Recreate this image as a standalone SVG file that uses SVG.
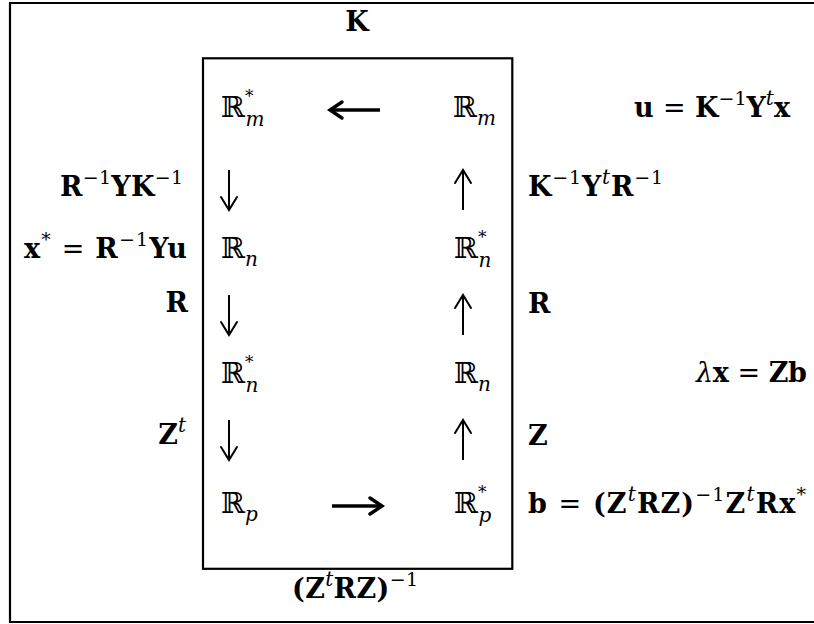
<svg xmlns="http://www.w3.org/2000/svg" width="814" height="624" viewBox="0 0 814 624">
<defs>
<style>
.b{font-family:"DejaVu Serif",serif;font-weight:bold;font-size:27px;fill:#000}
.r{font-weight:normal}
.sup{font-weight:normal;font-size:19px}
.supi{font-weight:normal;font-style:italic;font-size:20px}
.bb{font-family:"DejaVu Serif","DejaVu Sans",serif;font-size:29px;fill:#000}
.st{font-size:17px}
.sub{font-style:italic;font-size:20px}
.frame{fill:none;stroke:#000;stroke-width:2.2}
.arr{fill:none;stroke:#000;stroke-width:2;stroke-linecap:butt}
.harr{fill:none;stroke:#000;stroke-width:3.4;stroke-linecap:butt}
</style>
<marker id="head" markerUnits="userSpaceOnUse" markerWidth="24" markerHeight="24" refX="13" refY="12" orient="auto" overflow="visible">
<path d="M0 4 L13 12 L0 20" fill="none" stroke="#000" stroke-width="2" stroke-linecap="round" stroke-linejoin="miter"/>
</marker>
<marker id="headb" markerUnits="userSpaceOnUse" markerWidth="24" markerHeight="24" refX="13" refY="12" orient="auto" overflow="visible">
<path d="M1 4 L13 12 L1 20" fill="none" stroke="#000" stroke-width="3.4" stroke-linecap="round" stroke-linejoin="miter"/>
</marker>
</defs>
<rect width="814" height="624" fill="#fff"/>
<path class="frame" d="M820 3 H10 V622 H820"/>
<rect id="box" class="frame" x="203" y="58.3" width="309.3" height="510.5" stroke-width="2"/>

<g id="connectors">
<line class="harr" x1="380" y1="110" x2="330" y2="110" marker-end="url(#headb)"/>
<line class="harr" x1="332" y1="506" x2="382" y2="506" marker-end="url(#headb)"/>
<line class="arr" x1="229" y1="170" x2="229" y2="210" marker-end="url(#head)"/>
<line class="arr" x1="229" y1="295" x2="229" y2="335" marker-end="url(#head)"/>
<line class="arr" x1="229" y1="420" x2="229" y2="460" marker-end="url(#head)"/>
<line class="arr" x1="463" y1="210" x2="463" y2="170" marker-end="url(#head)"/>
<line class="arr" x1="463" y1="335" x2="463" y2="295" marker-end="url(#head)"/>
<line class="arr" x1="463" y1="460" x2="463" y2="420" marker-end="url(#head)"/>
</g>

<g id="n-Rm-star"><text class="bb" x="221" y="117">ℝ<tspan class="st" dy="-15">*</tspan><tspan class="sub" dx="-8" dy="24">m</tspan></text></g>
<g id="n-Rm"><text class="bb" x="453" y="117">ℝ<tspan class="sub" dy="8">m</tspan></text></g>
<g id="n-Rn-left"><text class="bb" x="221" y="258">ℝ<tspan class="sub" dy="8">n</tspan></text></g>
<g id="n-Rn-star-right"><text class="bb" x="454" y="258">ℝ<tspan class="st" dy="-15">*</tspan><tspan class="sub" dx="-8" dy="24">n</tspan></text></g>
<g id="n-Rn-star-left"><text class="bb" x="221" y="383">ℝ<tspan class="st" dy="-15">*</tspan><tspan class="sub" dx="-8" dy="24">n</tspan></text></g>
<g id="n-Rn-right"><text class="bb" x="454" y="383">ℝ<tspan class="sub" dy="8">n</tspan></text></g>
<g id="n-Rp"><text class="bb" x="221" y="513">ℝ<tspan class="sub" dy="8">p</tspan></text></g>
<g id="n-Rp-star"><text class="bb" x="454" y="513">ℝ<tspan class="st" dy="-15">*</tspan><tspan class="sub" dx="-8" dy="24">p</tspan></text></g>

<g id="labels">
<text class="b" x="357" y="31" text-anchor="middle" font-size="28">K</text>
<text class="b" x="634" y="117" textLength="156" lengthAdjust="spacing">u <tspan class="r">=</tspan> K<tspan class="sup" dy="-12">−1</tspan><tspan dy="12">Y</tspan><tspan class="supi" dy="-12">t</tspan><tspan dy="12">x</tspan></text>
<text class="b" x="60" y="196" textLength="123" lengthAdjust="spacing">R<tspan class="sup" dy="-12">−1</tspan><tspan dy="12">YK</tspan><tspan class="sup" dy="-12">−1</tspan></text>
<text class="b" x="528" y="196" textLength="135" lengthAdjust="spacing">K<tspan class="sup" dy="-12">−1</tspan><tspan dy="12">Y</tspan><tspan class="supi" dy="-12">t</tspan><tspan dy="12">R</tspan><tspan class="sup" dy="-12">−1</tspan></text>
<text class="b" x="24" y="258" textLength="163" lengthAdjust="spacing">x<tspan class="sup" dy="-12">*</tspan><tspan class="r" dy="12"> = </tspan>R<tspan class="sup" dy="-12">−1</tspan><tspan dy="12">Yu</tspan></text>
<text class="b" x="188" y="312" text-anchor="end">R</text>
<text class="b" x="528" y="313">R</text>
<text class="b" x="696" y="382" textLength="111" lengthAdjust="spacing"><tspan class="r" font-style="italic">λ</tspan>x <tspan class="r">=</tspan> Zb</text>
<text class="b" x="186" y="444" text-anchor="end">Z<tspan class="supi" dy="-12">t</tspan></text>
<text class="b" x="528" y="445">Z</text>
<text class="b" x="528" y="513" textLength="278" lengthAdjust="spacing">b <tspan class="r">=</tspan> (Z<tspan class="supi" dy="-12">t</tspan><tspan dy="12">RZ)</tspan><tspan class="sup" dy="-12">−1</tspan><tspan dy="12">Z</tspan><tspan class="supi" dy="-12">t</tspan><tspan dy="12">Rx</tspan><tspan class="sup" dy="-12">*</tspan></text>
<text class="b" x="292" y="598" textLength="126" lengthAdjust="spacing">(Z<tspan class="supi" dy="-12">t</tspan><tspan dy="12">RZ)</tspan><tspan class="sup" dy="-12">−1</tspan></text>
</g>
</svg>
